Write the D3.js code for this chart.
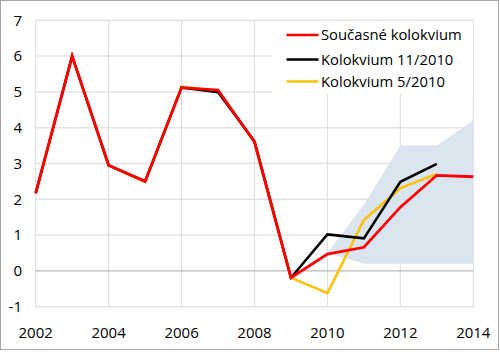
<!DOCTYPE html>
<html>
<head>
<meta charset="utf-8">
<script src="https://cdn.jsdelivr.net/npm/d3@7"></script>
<style>
  html, body { margin: 0; padding: 0; background: #fff; }
  svg text { font-family: "Open Sans", "Liberation Sans", sans-serif; fill: #000; }
</style>
</head>
<body>
<svg id="chart" width="500" height="352"></svg>
<script>
const years = [2002, 2003, 2004, 2005, 2006, 2007, 2008, 2009, 2010, 2011, 2012, 2013, 2014];
const current = [2.17, 6.0, 2.95, 2.5, 5.12, 5.05, 3.6, -0.19, 0.47, 0.66, 1.78, 2.67, 2.63];
const nov2010 = [2.17, 6.0, 2.95, 2.5, 5.12, 4.99, 3.62, -0.19, 1.02, 0.91, 2.49, 2.99, null];
const may2010 = [2.17, 6.0, 2.95, 2.48, 5.15, 5.03, 3.6, -0.19, -0.62, 1.42, 2.31, 2.71, null];
const bandYears = [2010, 2011, 2012, 2013, 2014];
const bandLow = [0.5, 0.2, 0.2, 0.2, 0.2];
const bandHigh = [0.5, 1.85, 3.5, 3.5, 4.2];
const seriesNames = ["Současné kolokvium", "Kolokvium 11/2010", "Kolokvium 5/2010"];
const seriesColors = ["#ff0000", "#000000", "#ffc000"];
const yTicks = [-1, 0, 1, 2, 3, 4, 5, 6, 7];
const xTicks = [2002, 2004, 2006, 2008, 2010, 2012, 2014];

const svg = d3.select("#chart");
const x = d3.scaleLinear().domain([2002, 2014]).range([35.7, 473.3]);
const y = d3.scaleLinear().domain([-1, 7]).range([306.7, 20.3]);

// outer frame
svg.append("rect").attr("x", 0.5).attr("y", 0.5).attr("width", 498).attr("height", 349)
  .attr("fill", "#fff").attr("stroke", "#a6a6a6").attr("stroke-width", 1);

// horizontal gridlines
svg.append("g").selectAll("line").data(yTicks.filter(d => d !== 0)).join("line")
  .attr("x1", x(2002)).attr("x2", x(2014))
  .attr("y1", d => y(d)).attr("y2", d => y(d))
  .attr("stroke", "#e3e3e3").attr("stroke-width", 1.5);

// vertical gridlines
svg.append("g").selectAll("line").data(xTicks).join("line")
  .attr("x1", d => x(d)).attr("x2", d => x(d))
  .attr("y1", y(7)).attr("y2", y(-1))
  .attr("stroke", "#dcdcdc").attr("stroke-width", 1);

// band
const band = bandYears.map((yr, i) => ({ yr, lo: bandLow[i], hi: bandHigh[i] }));
svg.append("path").datum(band)
  .attr("d", d3.area().x(d => x(d.yr)).y0(d => y(d.lo)).y1(d => y(d.hi)))
  .attr("fill", "#dbe5f0");

// zero line
svg.append("line").attr("x1", x(2002)).attr("x2", x(2014))
  .attr("y1", y(0)).attr("y2", y(0)).attr("stroke", "#a6a6a6").attr("stroke-width", 1);

// legend background
svg.append("rect").attr("x", 272).attr("y", 21.5).attr("width", x(2014) - 272 - 0.5).attr("height", 72.5)
  .attr("fill", "#fff");

// y tick labels
svg.append("g").selectAll("text").data(yTicks).join("text")
  .attr("x", 22).attr("y", d => y(d)).attr("dy", "0.35em")
  .attr("text-anchor", "end").attr("font-size", 15).text(d => d);

// x tick labels
svg.append("g").selectAll("text").data(xTicks).join("text")
  .attr("x", d => x(d)).attr("y", 332.5).attr("dy", "0.35em")
  .attr("text-anchor", "middle").attr("font-size", 15).text(d => d);

// series lines
const line = d3.line().defined(d => d.v !== null).x(d => x(d.yr)).y(d => y(d.v));
const allSeries = [current, nov2010, may2010];
[2, 1, 0].forEach(i => {
  svg.append("path")
    .datum(years.map((yr, j) => ({ yr, v: allSeries[i][j] })))
    .attr("d", line)
    .attr("fill", "none").attr("stroke", seriesColors[i])
    .attr("stroke-width", i === 0 ? 2.8 : 2.5).attr("stroke-linejoin", "miter").attr("stroke-linecap", "butt");
});

// legend
const rowY = [35, 59.5, 81.5];
const leg = svg.append("g");
seriesNames.forEach((name, i) => {
  leg.append("line").attr("x1", 286.5).attr("x2", 318.5)
    .attr("y1", rowY[i]).attr("y2", rowY[i])
    .attr("stroke", seriesColors[i]).attr("stroke-width", 2.6);
  leg.append("text").attr("x", 321).attr("y", rowY[i]).attr("dy", "0.35em")
    .attr("font-size", 14.8).text(name);
});
</script>
</body>
</html>
